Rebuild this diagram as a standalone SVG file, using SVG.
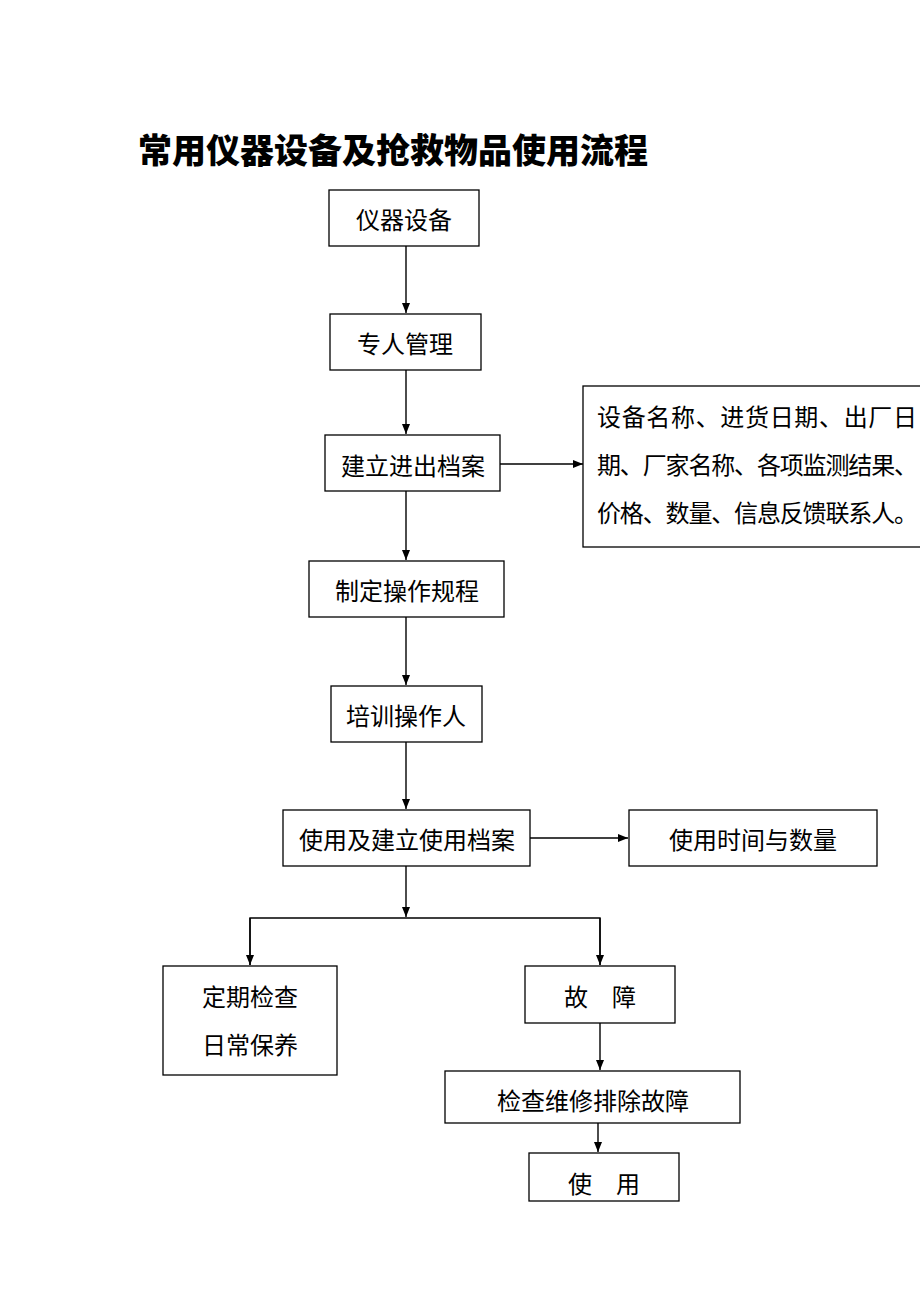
<svg xmlns="http://www.w3.org/2000/svg" width="920" height="1302" viewBox="0 0 920 1302">
<defs>
<style>
.box{fill:#fff;stroke:#000;stroke-width:1.3}
.t{font-family:"Noto Sans CJK SC","Noto Sans CJK JP",sans-serif;font-size:24px;fill:#000;text-anchor:middle}
.tl{text-anchor:start}
.title{font-family:"Noto Sans CJK SC",sans-serif;font-size:34px;font-weight:900;fill:#000}
.ln{fill:none;stroke:#000;stroke-width:1.4}
</style>
<marker id="ah" markerWidth="10" markerHeight="8" refX="10" refY="4" orient="auto" markerUnits="userSpaceOnUse">
<path d="M0,0 L10,4 L0,8 Z" fill="#000"/>
</marker>
</defs>
<rect width="920" height="1302" fill="#fff"/>
<text class="title" x="138" y="163">常用仪器设备及抢救物品使用流程</text>
<g id="connectors">
<line class="ln" x1="406" y1="246" x2="406" y2="313" marker-end="url(#ah)"/>
<line class="ln" x1="406" y1="370" x2="406" y2="434" marker-end="url(#ah)"/>
<line class="ln" x1="500" y1="464" x2="583" y2="464" marker-end="url(#ah)"/>
<line class="ln" x1="406" y1="491" x2="406" y2="560" marker-end="url(#ah)"/>
<line class="ln" x1="406" y1="617" x2="406" y2="685" marker-end="url(#ah)"/>
<line class="ln" x1="406" y1="742" x2="406" y2="809" marker-end="url(#ah)"/>
<line class="ln" x1="530" y1="838" x2="628" y2="838" marker-end="url(#ah)"/>
<line class="ln" x1="406" y1="866" x2="406" y2="917" marker-end="url(#ah)"/>
<polyline class="ln" points="250,965 250,918 600,918 600,965"/>
<line class="ln" x1="250" y1="918" x2="250" y2="965" marker-end="url(#ah)"/>
<line class="ln" x1="600" y1="918" x2="600" y2="965" marker-end="url(#ah)"/>
<line class="ln" x1="600" y1="1023" x2="600" y2="1070" marker-end="url(#ah)"/>
<line class="ln" x1="598" y1="1123" x2="598" y2="1152" marker-end="url(#ah)"/>
</g>
<g id="n1"><rect class="box" x="329" y="190" width="150" height="56"/><text class="t" x="404" y="229">仪器设备</text></g>
<g id="n2"><rect class="box" x="330" y="314" width="151" height="56"/><text class="t" x="405" y="353">专人管理</text></g>
<g id="n3"><rect class="box" x="325" y="435" width="175" height="56"/><text class="t" x="413" y="475">建立进出档案</text></g>
<g id="n4"><rect class="box" x="583" y="386" width="350" height="161"/>
<text class="t tl" x="597" y="426" textLength="320" lengthAdjust="spacing">设备名称、进货日期、出厂日</text>
<text class="t tl" x="597" y="474" textLength="321" lengthAdjust="spacing">期、厂家名称、各项监测结果、</text>
<text class="t tl" x="597" y="522" textLength="321" lengthAdjust="spacing">价格、数量、信息反馈联系人。</text></g>
<g id="n5"><rect class="box" x="309" y="561" width="195" height="56"/><text class="t" x="407" y="600">制定操作规程</text></g>
<g id="n6"><rect class="box" x="331" y="686" width="151" height="56"/><text class="t" x="406" y="725">培训操作人</text></g>
<g id="n7"><rect class="box" x="283" y="810" width="247" height="56"/><text class="t" x="407" y="849">使用及建立使用档案</text></g>
<g id="n8"><rect class="box" x="629" y="810" width="248" height="56"/><text class="t" x="753" y="849">使用时间与数量</text></g>
<g id="n9"><rect class="box" x="163" y="966" width="174" height="109"/><text class="t" x="250" y="1006">定期检查</text><text class="t" x="250" y="1054">日常保养</text></g>
<g id="n10"><rect class="box" x="525" y="966" width="150" height="57"/><text class="t" x="600" y="1006">故　障</text></g>
<g id="n11"><rect class="box" x="445" y="1071" width="295" height="52"/><text class="t" x="593" y="1110">检查维修排除故障</text></g>
<g id="n12"><rect class="box" x="529" y="1153" width="150" height="48"/><text class="t" x="604" y="1193">使　用</text></g>
</svg>
